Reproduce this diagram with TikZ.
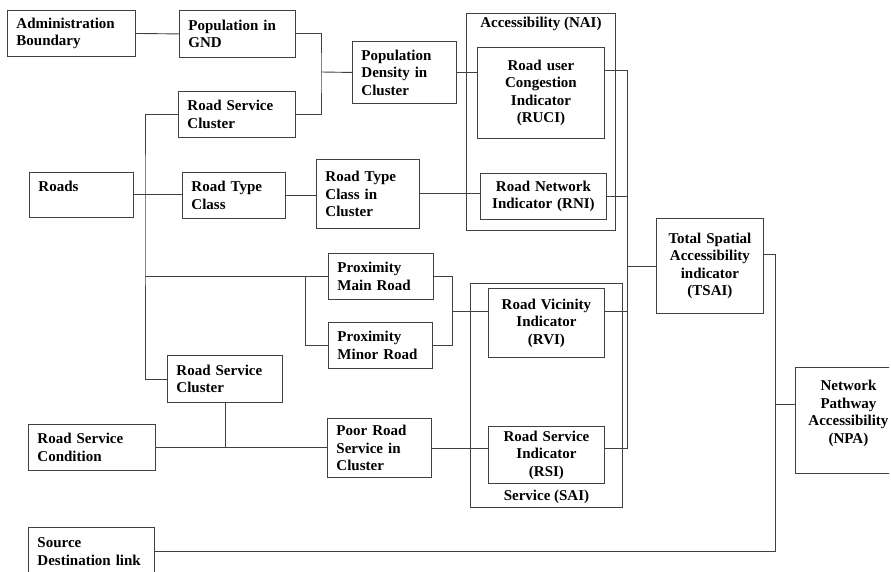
\documentclass[tikz,border=0pt]{standalone}
\usepackage{fontspec}
\setmainfont{Liberation Serif}
\tikzset{
  box/.style={draw=black!75, line width=0.9pt, anchor=north west, align=left,
    inner xsep=9pt, inner ysep=3pt, font=\fontsize{15}{17.5}\selectfont\bfseries},
  cbox/.style={box, align=center},
  group/.style={draw=black!75, line width=0.9pt, anchor=north west, inner sep=0pt},
  glabel/.style={font=\fontsize{15}{17.5}\selectfont\bfseries, inner sep=4pt},
  link/.style={draw=black!75, line width=0.9pt}
}
\begin{document}
\begin{tikzpicture}[x=1pt, y=-1pt]
    \useasboundingbox (0,0) rectangle (891,572);
    \clip (0,0) rectangle (889,571);

    % Groups
    \node[group, minimum width=149pt, minimum height=217pt] (nai) at (466,13) {};
    \node[glabel, anchor=north] (nailbl) at (nai.north) {Accessibility (NAI)};
    \node[group, minimum width=152pt, minimum height=224pt] (sai) at (470,283) {};
    \node[glabel, anchor=south] (sailbl) at (sai.south) {Service (SAI)};

    % Input boxes
    \node[box, text width=110pt, minimum height=46pt] (adm) at (7,10) {Administration\\Boundary};
    \node[box, text width=98pt, minimum height=47pt] (pgnd) at (179,10) {Population in\\GND};
    \node[box, text width=99pt, minimum height=46pt] (rsc1) at (178,91) {Road Service\\Cluster};
    \node[box, text width=86pt, minimum height=62pt] (pdc) at (352,41) {Population\\Density in\\Cluster};
    \node[box, text width=86pt, minimum height=45pt] (roads) at (29,172) {Roads\\\mbox{}};
    \node[box, text width=85pt, minimum height=46pt] (rtc) at (182,172) {Road Type\\Class};
    \node[box, text width=85pt, minimum height=69pt] (rtcc) at (316,159) {Road Type\\Class in\\Cluster};
    \node[box, text width=87pt, minimum height=46pt] (pmr) at (328,253) {Proximity\\Main Road};
    \node[box, text width=86pt, minimum height=46pt] (pmn) at (328,322) {Proximity\\Minor Road};
    \node[box, text width=97pt, minimum height=47pt] (rsc2) at (167,355) {Road Service\\Cluster};
    \node[box, text width=109pt, minimum height=46pt] (rscond) at (28,424) {Road Service\\Condition};
    \node[box, text width=86pt, minimum height=59pt] (prsc) at (327,418) {Poor Road\\Service in\\Cluster};
    \node[box, text width=108pt, minimum height=48pt] (sdl) at (28,527) {Source\\Destination link};

    % Indicators
    \node[cbox, text width=109pt, minimum height=91pt] (ruci) at (477,47) {Road user\\Congestion\\Indicator\\(RUCI)};
    \node[cbox, text width=108pt, minimum height=46pt] (rni) at (480,173) {Road Network\\Indicator (RNI)};
    \node[cbox, text width=98pt, minimum height=69pt] (rvi) at (488,288) {Road Vicinity\\Indicator\\(RVI)};
    \node[cbox, text width=98pt, minimum height=57pt] (rsi) at (488,426) {Road Service\\Indicator\\(RSI)};
    \node[cbox, text width=89pt, minimum height=95pt] (tsai) at (656,218) {Total Spatial\\Accessibility\\indicator\\(TSAI)};
    \node[cbox, text width=88pt, minimum height=106pt] (npa) at (795,367) {Network\\Pathway\\Accessibility\\(NPA)\\\mbox{}};

    % Junctions
    \coordinate (gj) at (321,72);
    \coordinate (lb) at (145,194);
    \coordinate (mj) at (305,276);
    \coordinate (pj) at (452,311);
    \coordinate (tb) at (627,70);
    \coordinate (nb) at (775,254);
    \coordinate (nj) at (775,404);

    % Population branch
    \draw[link] (adm.east) -- (pgnd.west);
    \draw[link] (pgnd.east) -| (gj) |- (rsc1.east);
    \draw[link] (gj) -- (pdc.west);
    \draw[link] (pdc.east) -- (pdc.east -| ruci.west);

    % Roads branch
    \draw[link] (rsc1.west) -| (lb) |- (rsc2.west);
    \draw[link] (roads.east) -- (roads.east -| rtc.west);
    \draw[link] (rtc.east) -- (rtc.east -| rtcc.west);
    \draw[link] (rtcc.east) -- (rtcc.east -| rni.west);
    \draw[link] (lb |- pmr.west) -- (pmr.west);
    \draw[link] (mj) |- (pmn.west);
    \draw[link] (pmr.east) -| (pj |- pmn.east) -- (pmn.east);
    \draw[link] (pj) -- (pj -| rvi.west);

    % Service branch
    \draw[link] (rsc2.south) -- (rsc2.south |- rscond.east);
    \draw[link] (rscond.east) -- (rscond.east -| prsc.west);
    \draw[link] (prsc.east) -- (prsc.east -| rsi.west);

    % Indicators to TSAI
    \draw[link] (ruci.east |- tb) -- (tb) |- (prsc.east -| rsi.east);
    \draw[link] (rni.east) -- (rni.east -| tb);
    \draw[link] (pj -| rvi.east) -- (pj -| tb);
    \draw[link] (tb |- tsai.west) -- (tsai.west);

    % TSAI and link to NPA
    \draw[link] (tsai.east |- nb) -- (nb) |- (sdl.east);
    \draw[link] (nj) -- (nj -| npa.west);
\end{tikzpicture}
\end{document}
